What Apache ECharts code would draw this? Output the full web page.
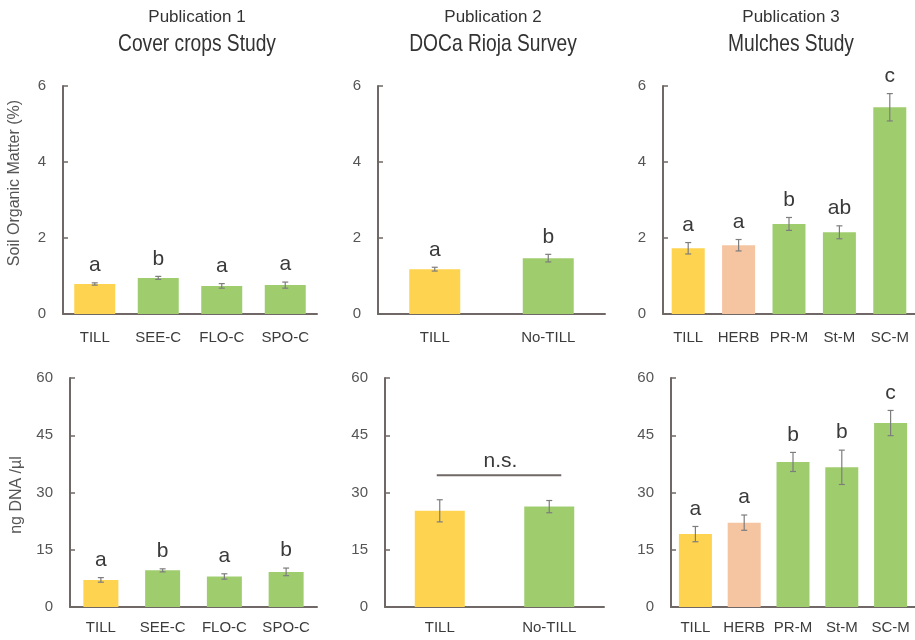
<!DOCTYPE html>
<html>
<head>
<meta charset="utf-8">
<script src="https://cdn.jsdelivr.net/npm/echarts@6/dist/echarts.min.js"></script>
<style>
  html, body { margin: 0; padding: 0; background: #ffffff; }
  #chart { width: 915px; height: 640px; }
</style>
</head>
<body>
<div id="chart"></div>
<script>
// ---- Data ----
// Publication 1: cover crops study
const coverCats = ['TILL', 'SEE-C', 'FLO-C', 'SPO-C'];
const coverSom = [0.79, 0.95, 0.74, 0.76];
const coverSomErr = [0.03, 0.04, 0.06, 0.08];
const coverSomLetters = ['a', 'b', 'a', 'a'];
const coverDna = [7.1, 9.6, 8.0, 9.2];
const coverDnaErr = [0.6, 0.4, 0.7, 1.0];
const coverDnaLetters = ['a', 'b', 'a', 'b'];

// Publication 2: DOCa Rioja survey
const surveyCats = ['TILL', 'No-TILL'];
const surveySom = [1.18, 1.47];
const surveySomErr = [0.05, 0.10];
const surveySomLetters = ['a', 'b'];
const surveyDna = [25.2, 26.3];
const surveyDnaErr = [2.9, 1.6];
const surveyDnaBracket = [34.5];
const surveyDnaBracketText = 'n.s.';

// Publication 3: mulches study
const mulchCats = ['TILL', 'HERB', 'PR-M', 'St-M', 'SC-M'];
const mulchSom = [1.73, 1.81, 2.37, 2.15, 5.44];
const mulchSomErr = [0.15, 0.15, 0.17, 0.17, 0.36];
const mulchSomLetters = ['a', 'a', 'b', 'ab', 'c'];
const mulchDna = [19.1, 22.1, 38.0, 36.6, 48.2];
const mulchDnaErr = [2.0, 2.0, 2.5, 4.5, 3.3];
const mulchDnaLetters = ['a', 'a', 'b', 'b', 'c'];

// Axis scales
const somTicks = { min: 0, max: 6, interval: 2 };
const dnaTicks = { min: 0, max: 60, interval: 15 };

const headings = [
  ['Publication 1', 'Cover crops Study'],
  ['Publication 2', 'DOCa Rioja Survey'],
  ['Publication 3', 'Mulches Study']
];
const somAxisName = 'Soil Organic Matter (%)';
const dnaAxisName = 'ng DNA /\u00b5l';

// ---- Styling ----
const FONT = '"Liberation Sans", Arial, Helvetica, sans-serif';
const AXIS_COLOR = '#6f6866';
const ERR_COLOR = '#7d7d7d';
const treatmentColor = (name) =>
  name === 'TILL' ? '#fed34f' : name === 'HERB' ? '#f5c4a1' : '#9fcd6e';

// Panel layout (pixels)
const panels = [
  { cats: coverCats,  vals: coverSom,  errs: coverSomErr,  letters: coverSomLetters,  scale: somTicks, grid: { left: 63,  top: 86,  width: 254, height: 228 }, barWidth: 41, labelMargin: 16 },
  { cats: surveyCats, vals: surveySom, errs: surveySomErr, letters: surveySomLetters, scale: somTicks, grid: { left: 378, top: 86,  width: 227, height: 228 }, barWidth: 51, labelMargin: 16 },
  { cats: mulchCats,  vals: mulchSom,  errs: mulchSomErr,  letters: mulchSomLetters,  scale: somTicks, grid: { left: 663, top: 86,  width: 256, height: 228 }, barWidth: 33, labelMargin: 16 },
  { cats: coverCats,  vals: coverDna,  errs: coverDnaErr,  letters: coverDnaLetters,  scale: dnaTicks, grid: { left: 70,  top: 378, width: 247, height: 229 }, barWidth: 35, labelMargin: 13 },
  { cats: surveyCats, vals: surveyDna, errs: surveyDnaErr, letters: null,             scale: dnaTicks, grid: { left: 385, top: 378, width: 219, height: 229 }, barWidth: 50, labelMargin: 13 },
  { cats: mulchCats,  vals: mulchDna,  errs: mulchDnaErr,  letters: mulchDnaLetters,  scale: dnaTicks, grid: { left: 671, top: 378, width: 248, height: 229 }, barWidth: 33, labelMargin: 13 }
];

const grids = [], xAxes = [], yAxes = [], series = [];

panels.forEach((p, i) => {
  grids.push(Object.assign({ containLabel: false }, p.grid));

  xAxes.push({
    type: 'category', gridIndex: i, data: p.cats,
    axisLine: { lineStyle: { color: AXIS_COLOR, width: 2 } },
    axisTick: { show: false },
    axisLabel: { color: '#3c3c3c', fontFamily: FONT, fontSize: 15, margin: p.labelMargin, interval: 0 },
    splitLine: { show: false }
  });

  yAxes.push({
    type: 'value', gridIndex: i,
    min: p.scale.min, max: p.scale.max, interval: p.scale.interval,
    axisLine: { show: true, lineStyle: { color: AXIS_COLOR, width: 2 } },
    axisTick: { show: true, inside: true, length: 5, lineStyle: { color: AXIS_COLOR, width: 1.5 } },
    axisLabel: { color: '#555555', fontFamily: FONT, fontSize: 15, margin: 17 },
    splitLine: { show: false }
  });

  series.push({
    type: 'bar', xAxisIndex: i, yAxisIndex: i,
    barWidth: p.barWidth,
    data: p.vals.map((v, k) => ({ value: v, itemStyle: { color: treatmentColor(p.cats[k]) } })),
    silent: true
  });

  // Error bars (mean ± SE) with significance letters on top
  const letters = p.letters;
  series.push({
    type: 'custom', xAxisIndex: i, yAxisIndex: i, z: 5, silent: true,
    data: p.vals.map((v, k) => [k, v, p.errs[k]]),
    encode: { x: 0, y: 1 },
    renderItem: (params, api) => {
      const k = api.value(0), v = api.value(1), e = api.value(2);
      const hi = api.coord([k, v + e]);
      const lo = api.coord([k, v - e]);
      const cap = 3;
      const children = [
        { type: 'line', shape: { x1: hi[0], y1: hi[1], x2: lo[0], y2: lo[1] }, style: { stroke: ERR_COLOR, lineWidth: 1.2 } },
        { type: 'line', shape: { x1: hi[0] - cap, y1: hi[1], x2: hi[0] + cap, y2: hi[1] }, style: { stroke: ERR_COLOR, lineWidth: 1.2 } },
        { type: 'line', shape: { x1: lo[0] - cap, y1: lo[1], x2: lo[0] + cap, y2: lo[1] }, style: { stroke: ERR_COLOR, lineWidth: 1.2 } }
      ];
      if (letters) {
        children.push({
          type: 'text',
          style: {
            text: letters[params.dataIndex], x: hi[0], y: hi[1] - 7,
            align: 'center', verticalAlign: 'bottom',
            fill: '#3a3a3a', fontFamily: FONT, fontSize: 21
          }
        });
      }
      return { type: 'group', children };
    }
  });
});

// Non-significance bracket across the survey DNA bars
series.push({
  type: 'custom', xAxisIndex: 4, yAxisIndex: 4, z: 5, silent: true,
  data: [[0, surveyDnaBracket[0]]],
  encode: { x: 0, y: 1 },
  renderItem: (params, api) => {
    const level = api.value(1);
    const a = api.coord([0, level]);
    const b = api.coord([1, level]);
    const overhang = 12;
    return {
      type: 'group',
      children: [
        { type: 'line', shape: { x1: a[0] - 3, y1: a[1], x2: b[0] + overhang, y2: b[1] }, style: { stroke: AXIS_COLOR, lineWidth: 2 } },
        { type: 'text', style: { text: surveyDnaBracketText, x: (a[0] + b[0] + overhang) / 2, y: a[1] - 4, align: 'center', verticalAlign: 'bottom', fill: '#3a3a3a', fontFamily: FONT, fontSize: 21 } }
      ]
    };
  }
});

// Column headings and row axis names
const headingCenters = [197, 493, 791];
const graphic = [];
headings.forEach((h, i) => {
  graphic.push({ type: 'text', x: headingCenters[i], y: 17, style: { text: h[0], align: 'center', verticalAlign: 'middle', fill: '#333333', fontFamily: FONT, fontSize: 17 } });
  graphic.push({ type: 'text', x: headingCenters[i], y: 44, scaleX: 0.8, style: { text: h[1], align: 'center', verticalAlign: 'middle', fill: '#333333', fontFamily: FONT, fontSize: 24 } });
});
graphic.push({ type: 'text', x: 15, y: 183, rotation: Math.PI / 2, style: { text: somAxisName, align: 'center', verticalAlign: 'middle', fill: '#555555', fontFamily: FONT, fontSize: 16 } });
graphic.push({ type: 'text', x: 17, y: 495, rotation: Math.PI / 2, style: { text: dnaAxisName, align: 'center', verticalAlign: 'middle', fill: '#555555', fontFamily: FONT, fontSize: 16 } });

const chart = echarts.init(document.getElementById('chart'), null, { renderer: 'canvas' });
chart.setOption({
  backgroundColor: '#ffffff',
  animation: false,
  grid: grids,
  xAxis: xAxes,
  yAxis: yAxes,
  series: series,
  graphic: graphic
});
</script>
</body>
</html>
